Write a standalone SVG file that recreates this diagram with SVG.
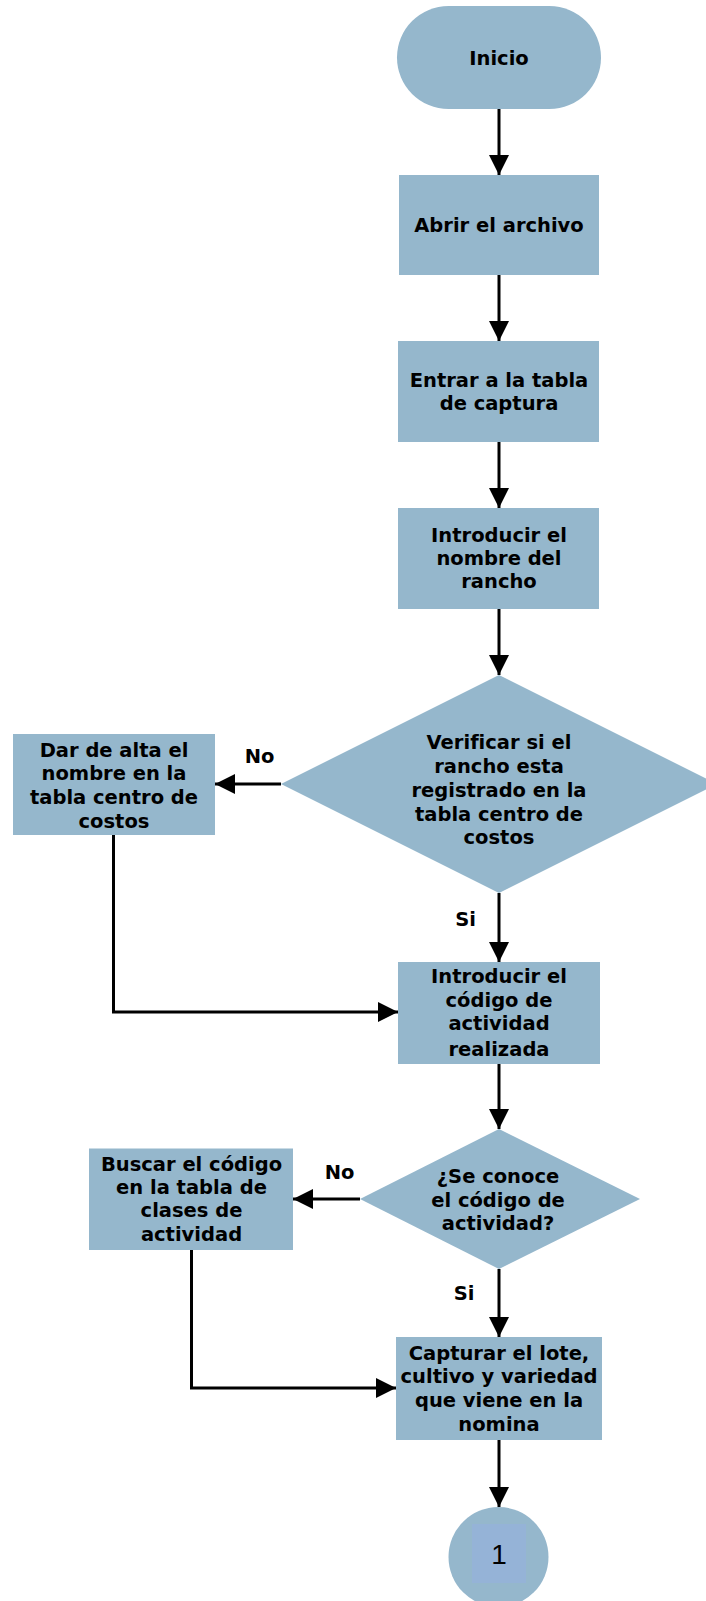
<svg xmlns="http://www.w3.org/2000/svg" width="706" height="1601" viewBox="0 0 706 1601">
<style>
.n{fill:#95B7CC;}
.t{font-family:"DejaVu Sans",Verdana,sans-serif;font-weight:bold;font-size:19.5px;fill:#000;text-anchor:middle;font-variant-ligatures:none;font-feature-settings:"liga" 0;}
.c{fill:none;stroke:#000;stroke-width:3;}
</style>
<defs>
<marker id="ah" markerUnits="userSpaceOnUse" markerWidth="20" markerHeight="20" refX="20" refY="10" orient="auto">
<path d="M0,0 L20,10 L0,20 z" fill="#000"/>
</marker>
</defs>
<rect width="706" height="1601" fill="#fff"/>
<g id="connectors">
<path class="c" d="M499,109 V175" marker-end="url(#ah)"/>
<path class="c" d="M499,275 V341" marker-end="url(#ah)"/>
<path class="c" d="M499,442 V508" marker-end="url(#ah)"/>
<path class="c" d="M499,609 V675" marker-end="url(#ah)"/>
<path class="c" d="M281,784 H215" marker-end="url(#ah)"/>
<path class="c" d="M499,893 V962" marker-end="url(#ah)"/>
<path class="c" d="M113.5,835 V1012 H398" marker-end="url(#ah)"/>
<path class="c" d="M499,1064 V1129" marker-end="url(#ah)"/>
<path class="c" d="M360,1199 H293" marker-end="url(#ah)"/>
<path class="c" d="M191.5,1250 V1388 H396" marker-end="url(#ah)"/>
<path class="c" d="M499,1269 V1337" marker-end="url(#ah)"/>
<path class="c" d="M499,1440 V1507" marker-end="url(#ah)"/>
<text class="t" x="259.5" y="763">No</text>
<text class="t" x="465.5" y="925.5">Si</text>
<text class="t" x="339.5" y="1179">No</text>
<text class="t" x="464" y="1300">Si</text>
</g>
<g id="inicio">
<rect class="n" x="397" y="6" width="204" height="103" rx="51.5" ry="51.5"/>
<text class="t" x="499" y="65">Inicio</text>
</g>
<g id="abrir">
<rect class="n" x="399" y="175" width="200" height="100"/>
<text class="t" x="499" y="231.7">Abrir el archivo</text>
</g>
<g id="entrar">
<rect class="n" x="398" y="341" width="201" height="101"/>
<text class="t" x="499" y="387">Entrar a la tabla</text>
<text class="t" x="499" y="410">de captura</text>
</g>
<g id="nombre">
<rect class="n" x="398" y="508" width="201" height="101"/>
<text class="t" x="499" y="541.7">Introducir el</text>
<text class="t" x="499" y="565">nombre del</text>
<text class="t" x="499" y="588.3">rancho</text>
</g>
<g id="verificar">
<polygon class="n" points="499,675 717,784 499,893 281,784"/>
<text class="t" x="499" y="749.3">Verificar si el</text>
<text class="t" x="499" y="772.7">rancho esta</text>
<text class="t" x="499" y="796.7">registrado en la</text>
<text class="t" x="499" y="821">tabla centro de</text>
<text class="t" x="499" y="844.3">costos</text>
</g>
<g id="alta">
<rect class="n" x="13" y="734" width="202" height="101"/>
<text class="t" x="114" y="756.7">Dar de alta el</text>
<text class="t" x="114" y="780">nombre en la</text>
<text class="t" x="114" y="804">tabla centro de</text>
<text class="t" x="114" y="827.7">costos</text>
</g>
<g id="codigo">
<rect class="n" x="398" y="962" width="202" height="102"/>
<text class="t" x="499" y="983">Introducir el</text>
<text class="t" x="499" y="1006.6">código de</text>
<text class="t" x="499" y="1030.3">actividad</text>
<text class="t" x="499" y="1055.6">realizada</text>
</g>
<g id="conoce">
<polygon class="n" points="499,1129 640,1199 499,1269 360,1199"/>
<text class="t" x="498" y="1182.7">¿Se conoce</text>
<text class="t" x="498" y="1206.7">el código de</text>
<text class="t" x="498" y="1230">actividad?</text>
</g>
<g id="buscar">
<rect class="n" x="89" y="1148.5" width="204" height="101.5"/>
<text class="t" x="191.5" y="1170.7">Buscar el código</text>
<text class="t" x="191.5" y="1194">en la tabla de</text>
<text class="t" x="191.5" y="1217.3">clases de</text>
<text class="t" x="191.5" y="1241">actividad</text>
</g>
<g id="capturar">
<rect class="n" x="396" y="1337" width="206" height="103"/>
<text class="t" x="499" y="1360">Capturar el lote,</text>
<text class="t" x="499" y="1383.3">cultivo y variedad</text>
<text class="t" x="499" y="1406.7">que viene en la</text>
<text class="t" x="499" y="1430.7">nomina</text>
</g>
<g id="conector1">
<circle class="n" cx="498.5" cy="1557" r="50"/>
<rect x="472" y="1524" width="54" height="59" fill="#95B3D7"/>
<text x="499" y="1564" font-family="Liberation Sans,Arial,sans-serif" font-size="28" text-anchor="middle" fill="#000">1</text>
</g>
</svg>
